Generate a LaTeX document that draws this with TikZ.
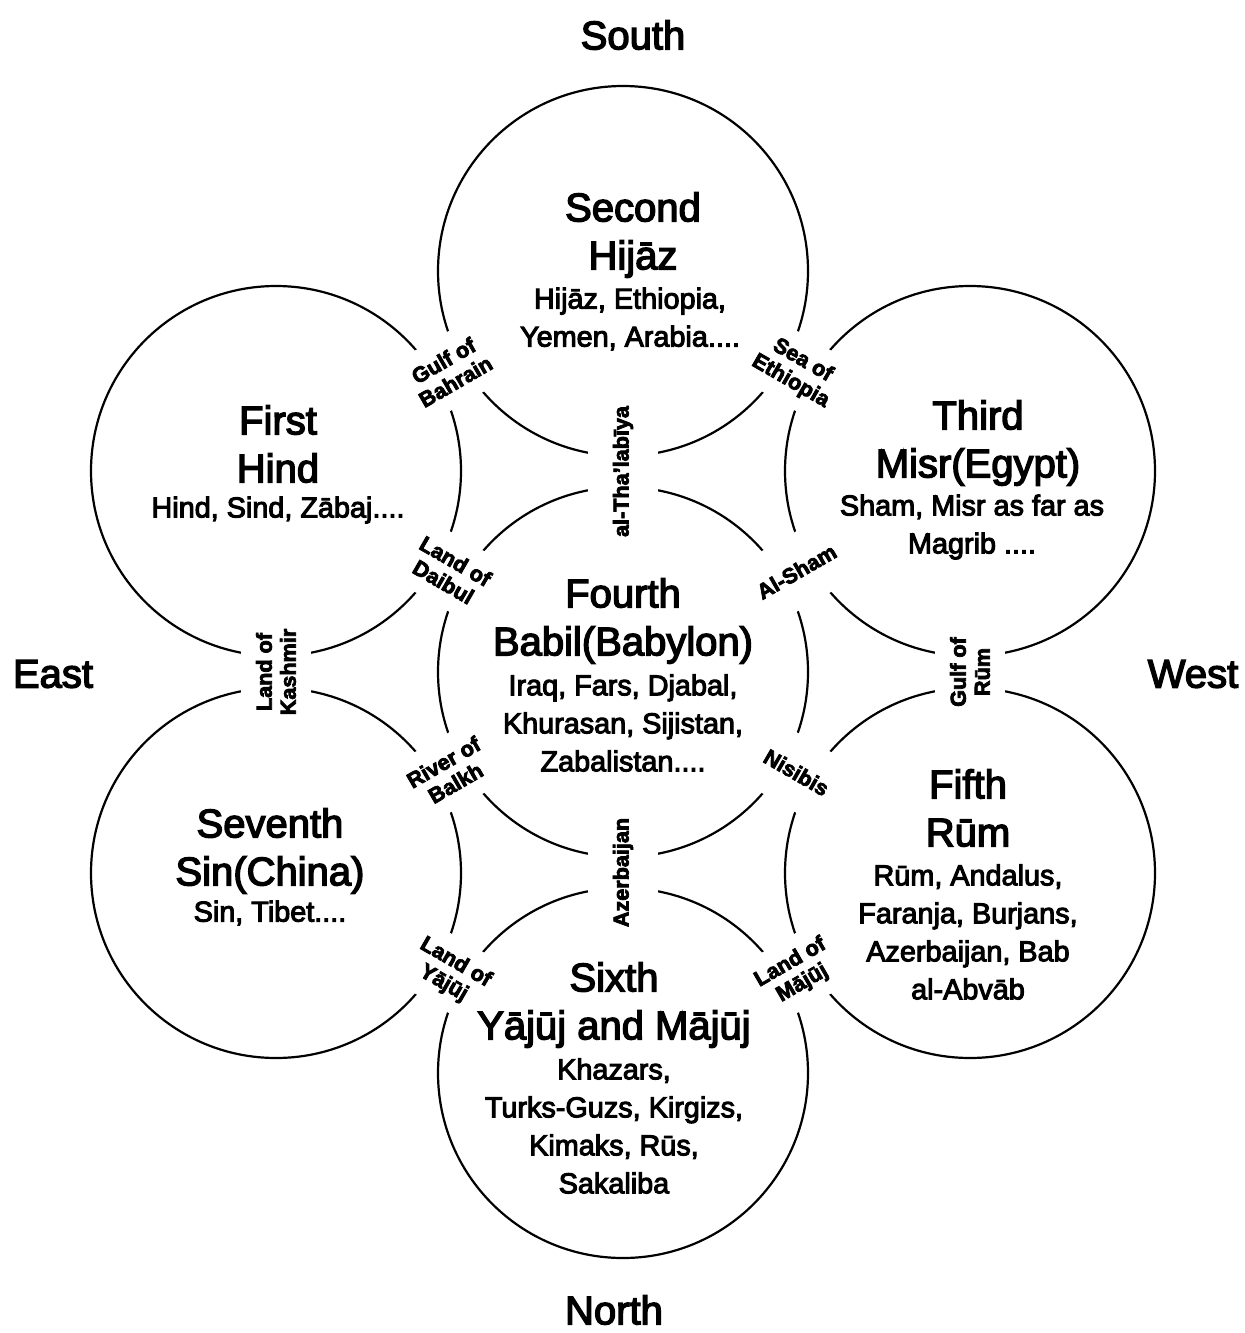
\documentclass[tikz,border=0pt]{standalone}
\usepackage{fontspec}
\setmainfont{Liberation Sans}[FakeBold=3.5]
\usetikzlibrary{calc}
\newcommand{\zonetitle}{\fontsize{20}{24}\selectfont}
\newcommand{\zonelist}{\fontsize{14.4}{19}\selectfont}
\newcommand{\edgefont}{\fontsize{10.8}{12}\selectfont\bfseries}
\tikzset{
  region/.style={draw, circle, line width=1.1pt, minimum size=185pt, inner sep=0pt},
  zonename/.style={align=center, font=\zonetitle, inner sep=0pt},
  places/.style={align=center, font=\zonelist, inner sep=0pt},
  passage/.style={fill=white, align=center, font=\edgefont, inner xsep=2pt, inner ysep=0pt, minimum height=35pt},
  cardinal/.style={font=\zonetitle, inner sep=0pt}
}

\begin{document}
\begin{tikzpicture}[x=0.5pt,y=-0.5pt]
\useasboundingbox (0,0) rectangle (1245,1333);
\node[region] (fourth) at (623,672) {};
\node[region] (second) at (623,271) {};
\node[region] (sixth) at (623,1073) {};
\node[region] (first) at (276,471) {};
\node[region] (third) at (970,471) {};
\node[region] (seventh) at (276,873) {};
\node[region] (fifth) at (970,873) {};

\node[passage, rotate=90] (thalabiya) at ($(second)!0.5!(fourth)$) {al-Tha'labīya};
\node[passage, rotate=90] (azerbaijan) at ($(fourth)!0.5!(sixth)$) {Azerbaijan};
\node[passage, rotate=30] (bahrain) at ($(first)!0.5!(second)$) {Gulf of\\Bahrain};
\node[passage, rotate=-30] (ethiopia) at ($(second)!0.5!(third)$) {Sea of\\Ethiopia};
\node[passage, rotate=-30] (daibul) at ($(first)!0.5!(fourth)$) {Land of\\Daibul};
\node[passage, rotate=30] (sham) at ($(fourth)!0.5!(third)$) {Al-Sham};
\node[passage, rotate=90] (kashmir) at ($(first)!0.5!(seventh)$) {Land of\\Kashmir};
\node[passage, rotate=90] (rumgulf) at ($(third)!0.5!(fifth)$) {Gulf of\\Rūm};
\node[passage, rotate=30] (balkh) at ($(seventh)!0.5!(fourth)$) {River of\\Balkh};
\node[passage, rotate=-30] (nisibis) at ($(fourth)!0.5!(fifth)$) {Nisibis};
\node[passage, rotate=-30] (yajuj) at ($(seventh)!0.5!(sixth)$) {Land of\\Yājūj};
\node[passage, rotate=30] (majuj) at ($(sixth)!0.5!(fifth)$) {Land of\\Mājūj};

\node[zonename] (firstname) at (278,444) {First\\Hind};
\node[places] (firstlist) at (278,510) {Hind, Sind, Zābaj....};
\node[zonename] (secondname) at (633,235) {Second\\Hijāz};
\node[places] (secondlist) at (630,319) {Hijāz, Ethiopia,\\Yemen, Arabia....};
\node[zonename] (thirdname) at (978,443) {Third\\Misr(Egypt)};
\node[places] (thirdlist) at (972,527) {Sham, Misr as far as\\Magrib ....};
\node[zonename] (fourthname) at (623,621) {Fourth\\Babil(Babylon)};
\node[places] (fourthlist) at (623,723) {Iraq, Fars, Djabal,\\Khurasan, Sijistan,\\Zabalistan....};
\node[zonename] (fifthname) at (968,808) {Fifth\\Rūm};
\node[places] (fifthlist) at (968,932) {Rūm, Andalus,\\Faranja, Burjans,\\Azerbaijan, Bab\\al-Abvāb};
\node[zonename] (sixthname) at (614,1005) {Sixth\\Yājūj and Mājūj};
\node[places] (sixthlist) at (614,1126) {Khazars,\\Turks-Guzs, Kirgizs,\\Kimaks, Rūs,\\Sakaliba};
\node[zonename] (seventhname) at (270,851) {Seventh\\Sin(China)};
\node[places] (seventhlist) at (270,913) {Sin, Tibet....};

\node[cardinal] (south) at (633,35) {South};
\node[cardinal] (north) at (614,1310) {North};
\node[cardinal] (east) at (53,674) {East};
\node[cardinal] (west) at (1193,674) {West};
\end{tikzpicture}
\end{document}
